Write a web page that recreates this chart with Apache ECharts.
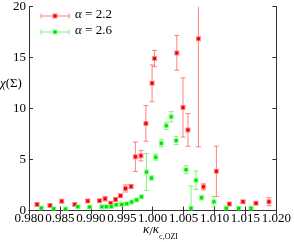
<!DOCTYPE html>
<html><head><meta charset="utf-8">
<script src="https://cdn.jsdelivr.net/npm/echarts@6/dist/echarts.min.js"></script>
<style>html,body{margin:0;padding:0;background:#fff}#c{width:294px;height:242px}</style>
</head><body><div id="c"></div>
<script>
// ---- data ----
const xMin = 0.980, xMax = 1.020, xStep = 0.005;
const yMin = 0, yMax = 20, yStep = 5;

const redKappa = [0.9813, 0.9834, 0.9853, 0.9874, 0.9895, 0.9914, 0.9923, 0.9932, 0.9940, 0.9948, 0.9956, 0.9965, 0.9972, 0.9981, 0.9989, 0.9999, 1.0003, 1.0039, 1.0049, 1.0057, 1.0074, 1.0082, 1.0103, 1.0124, 1.0146, 1.0167, 1.0188];
const redChi   = [0.60, 0.49, 0.90, 0.58, 0.93, 0.96, 1.15, 0.70, 1.09, 1.44, 2.16, 2.35, 5.27, 5.37, 8.54, 12.47, 14.90, 15.45, 10.10, 7.90, 16.85, 2.32, 3.84, 0.63, 0.86, 0.70, 0.86];
const redErr   = [0.15, 0.12, 0.15, 0.12, 0.15, 0.12, 0.20, 0.15, 0.20, 0.15, 0.35, 0.20, 1.45, 0.50, 1.75, 1.80, 0.80, 1.70, 2.90, 1.60, 10.60, 0.30, 2.47, 0.12, 0.12, 0.12, 0.40];

const greenKappa = [0.9820, 0.9840, 0.9859, 0.9879, 0.9898, 0.9918, 0.9925, 0.9933, 0.9941, 0.9950, 0.9958, 0.9966, 0.9974, 0.9982, 0.9990, 0.9998, 1.0005, 1.0014, 1.0022, 1.0030, 1.0038, 1.0054, 1.0062, 1.0070, 1.0079, 1.0099, 1.0119, 1.0139, 1.0159];
const greenChi   = [0.24, 0.18, 0.15, 0.37, 0.34, 0.37, 0.37, 0.40, 0.56, 0.60, 0.66, 0.83, 1.02, 1.34, 3.77, 3.19, 5.23, 6.60, 8.30, 9.19, 6.86, 4.00, 0.21, 2.97, 1.25, 0.86, 0.21, 0.21, 0.21];
const greenErr   = [0.10, 0.10, 0.10, 0.10, 0.10, 0.10, 0.10, 0.10, 0.10, 0.10, 0.10, 0.10, 0.12, 0.12, 1.80, 0.20, 0.30, 0.35, 0.35, 0.50, 0.40, 0.40, 2.20, 0.90, 0.20, 0.50, 0.10, 0.10, 0.10];

const seriesNames = ['α = 2.2', 'α = 2.6'];

// ---- build ----
function zip(a, b, c) { return a.map((v, i) => [v, b[i], c[i]]); }
const FONT = 'Liberation Serif';

function makeRender(barColor, markColor, edgeColor) {
  return function (params, api) {
    const x = api.value(0), y = api.value(1), e = api.value(2);
    const p = api.coord([x, y]);
    const hi = Math.min(y + e, yMax), lo = Math.max(y - e, yMin);
    const t = api.coord([x, hi]), b = api.coord([x, lo]);
    const cw = 2.5;
    const ch = [];
    ch.push({ type: 'line', shape: { x1: p[0], y1: t[1], x2: p[0], y2: b[1] }, style: { stroke: barColor, lineWidth: 1 } });
    if (y + e <= yMax) ch.push({ type: 'line', shape: { x1: p[0] - cw, y1: t[1], x2: p[0] + cw, y2: t[1] }, style: { stroke: barColor, lineWidth: 1 } });
    if (y - e >= yMin) ch.push({ type: 'line', shape: { x1: p[0] - cw, y1: b[1], x2: p[0] + cw, y2: b[1] }, style: { stroke: barColor, lineWidth: 1 } });
    ch.push({ type: 'rect', shape: { x: p[0] - 2.5, y: p[1] - 2.5, width: 5, height: 5 }, style: { fill: edgeColor, stroke: null } });
    ch.push({ type: 'rect', shape: { x: p[0] - 1.5, y: p[1] - 1.5, width: 3, height: 3 }, style: { fill: markColor, stroke: null } });
    return { type: 'group', children: ch };
  };
}

const axisLine = { show: true, lineStyle: { color: '#333', width: 1 } };
const tick = { show: true, inside: true, length: 4, lineStyle: { color: '#333' } };
const lab = { fontFamily: FONT, fontSize: 13, color: '#000' };

const chart = echarts.init(document.getElementById('c'));
chart.setOption({
  animation: false,
  grid: { left: 29, right: 14, top: 5, bottom: 31.5 },
  xAxis: [
    { type: 'value', position: 'bottom', min: xMin, max: xMax, interval: xStep, axisLine, axisTick: tick, splitLine: { show: false },
      axisLabel: Object.assign({ margin: 2, formatter: v => v.toFixed(3) }, lab) },
    { type: 'value', position: 'top', min: xMin, max: xMax, interval: xStep, axisLine, axisTick: tick, splitLine: { show: false }, axisLabel: { show: false } }
  ],
  yAxis: [
    { type: 'value', position: 'left', min: yMin, max: yMax, interval: yStep, axisLine, axisTick: tick, splitLine: { show: false },
      axisLabel: Object.assign({ margin: 3 }, lab) },
    { type: 'value', position: 'right', min: yMin, max: yMax, interval: yStep, axisLine, axisTick: tick, splitLine: { show: false }, axisLabel: { show: false } }
  ],
  series: [
    { name: seriesNames[0], type: 'custom', data: zip(redKappa, redChi, redErr), renderItem: makeRender('rgba(255,90,90,0.75)', '#f00000', 'rgba(255,110,110,0.8)'), clip: true },
    { name: seriesNames[1], type: 'custom', data: zip(greenKappa, greenChi, greenErr), renderItem: makeRender('rgba(90,240,90,0.75)', '#00dd00', 'rgba(120,255,120,0.8)'), clip: true }
  ],
  graphic: [
    // legend
    { type: 'line', shape: { x1: 41, y1: 16, x2: 69, y2: 16 }, style: { stroke: 'rgba(255,90,90,0.75)', lineWidth: 1 } },
    { type: 'line', shape: { x1: 41, y1: 13.5, x2: 41, y2: 18.5 }, style: { stroke: 'rgba(255,90,90,0.75)', lineWidth: 1 } },
    { type: 'line', shape: { x1: 69, y1: 13.5, x2: 69, y2: 18.5 }, style: { stroke: 'rgba(255,90,90,0.75)', lineWidth: 1 } },
    { type: 'rect', shape: { x: 52.5, y: 13.5, width: 5, height: 5 }, style: { fill: 'rgba(255,110,110,0.8)' } },
    { type: 'rect', shape: { x: 53.5, y: 14.5, width: 3, height: 3 }, style: { fill: '#f00000' } },
    { type: 'text', left: 75, top: 8, style: { text: '{i|α} = 2.2', font: '13px ' + FONT, fill: '#000', rich: { i: { fontStyle: 'italic', fontFamily: FONT, fontSize: 13 } } } },
    { type: 'line', shape: { x1: 41, y1: 32, x2: 69, y2: 32 }, style: { stroke: 'rgba(90,240,90,0.75)', lineWidth: 1 } },
    { type: 'line', shape: { x1: 41, y1: 29.5, x2: 41, y2: 34.5 }, style: { stroke: 'rgba(90,240,90,0.75)', lineWidth: 1 } },
    { type: 'line', shape: { x1: 69, y1: 29.5, x2: 69, y2: 34.5 }, style: { stroke: 'rgba(90,240,90,0.75)', lineWidth: 1 } },
    { type: 'rect', shape: { x: 52.5, y: 29.5, width: 5, height: 5 }, style: { fill: 'rgba(120,255,120,0.8)' } },
    { type: 'rect', shape: { x: 53.5, y: 30.5, width: 3, height: 3 }, style: { fill: '#00dd00' } },
    { type: 'text', left: 75, top: 24, style: { text: '{i|α} = 2.6', font: '13px ' + FONT, fill: '#000', rich: { i: { fontStyle: 'italic', fontFamily: FONT, fontSize: 13 } } } },
    // axis names
    { type: 'text', left: 0, top: 77, style: { text: '{i|χ}(Σ)', font: '13px ' + FONT, fill: '#000', rich: { i: { fontStyle: 'italic', fontFamily: FONT, fontSize: 13 } } } },
    { type: 'text', left: 143, top: 223, style: { text: '{i|κ}/{i|κ}{s|c,OZI}', font: '13px ' + FONT, fill: '#000',
      rich: { i: { fontStyle: 'italic', fontFamily: FONT, fontSize: 13, lineHeight: 18, verticalAlign: 'top' }, s: { fontFamily: FONT, fontSize: 8, lineHeight: 18, verticalAlign: 'bottom' } } } }
  ]
});
</script></body></html>
